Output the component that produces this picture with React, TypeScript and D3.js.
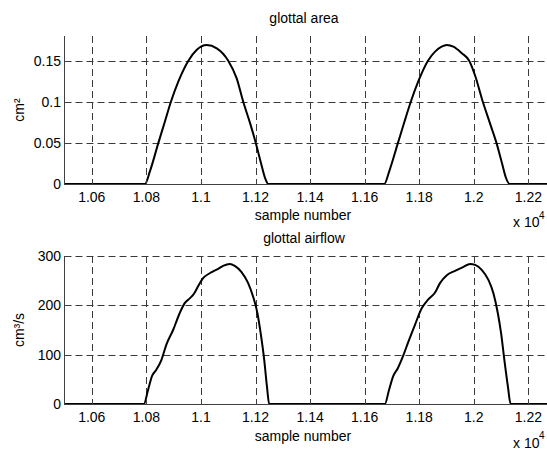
import React from "react";
import * as d3 from "d3";

const xTicks = [10600, 10800, 11000, 11200, 11400, 11600, 11800, 12000, 12200];
const xTickLabels = ["1.06", "1.08", "1.1", "1.12", "1.14", "1.16", "1.18", "1.2", "1.22"];
const xDomain = [10500, 12270];

const areaTicks = [0, 0.05, 0.1, 0.15];
const areaTickLabels = ["0", "0.05", "0.1", "0.15"];
const areaDomain = [0, 0.18];

const flowTicks = [0, 100, 200, 300];
const flowTickLabels = ["0", "100", "200", "300"];
const flowDomain = [0, 300];

const areaSamples = [
  10500, 10795, 10813, 10844, 10868, 10890, 10917, 10954, 10984, 11021, 11058, 11100, 11131,
  11155, 11180, 11201, 11220, 11235, 11247,
  11672, 11690, 11722, 11746, 11769, 11796, 11832, 11858, 11882, 11901, 11925, 11956,
  11983, 12004, 12033, 12059, 12083, 12103, 12118, 12131, 12270,
];
const areaValues = [
  0, 0, 0.0154, 0.05, 0.076, 0.1, 0.1245, 0.15, 0.163, 0.169, 0.165, 0.15, 0.1285,
  0.1, 0.074, 0.05, 0.0255, 0.0073, 0,
  0, 0.0154, 0.05, 0.076, 0.1, 0.1245, 0.15, 0.161, 0.167, 0.169, 0.167, 0.159,
  0.15, 0.1326, 0.1, 0.074, 0.05, 0.0255, 0.0073, 0, 0,
];

const flowSamples = [
  10500, 10791, 10806, 10821, 10836, 10855, 10873, 10898, 10922, 10940, 10959, 10975, 10989, 11008,
  11032, 11063, 11081, 11106, 11124, 11148, 11173, 11191, 11207, 11219, 11232, 11242, 11250,
  11674, 11689, 11705, 11721, 11742, 11760, 11784, 11809, 11833, 11858, 11876, 11901, 11931, 11962,
  11986, 12005, 12029, 12054, 12072, 12088, 12100, 12112, 12125, 12135, 12270,
];
const flowValues = [
  0, 0, 28, 57, 69, 89, 120, 150, 184, 204, 214, 224, 238, 255,
  265, 274, 280, 284, 280, 268, 245, 218, 184, 143, 89, 35, 0,
  0, 28, 57, 72, 99, 126, 160, 194, 212, 226, 245, 261, 270, 278,
  284, 282, 272, 251, 224, 184, 143, 89, 35, 0, 0,
];

const FONT = "'Liberation Sans', Arial, Helvetica, sans-serif";
const GRID = "#3a3a3a";
const AXIS = "#404040";

type PanelProps = {
  top: number;
  bottom: number;
  yDomain: number[];
  yTicks: number[];
  yTickLabels: string[];
  samples: number[];
  values: number[];
  title: string;
  titleY: number;
  yLabel: string;
  xLabelY: number;
  tickLabelY: number;
  expY: number;
  expSupY: number;
};

function Panel(p: PanelProps) {
  const left = 64.5;
  const right = 547.5;
  const x = d3.scaleLinear().domain(xDomain).range([left, right]);
  const y = d3.scaleLinear().domain(p.yDomain).range([p.bottom, p.top]);
  const pts: [number, number][] = p.samples.map((s, i) => [s, p.values[i]]);
  const line = d3
    .line<[number, number]>()
    .x((d) => x(d[0]))
    .y((d) => y(d[1]))
    .curve(d3.curveMonotoneX);
  return (
    <g>
      {xTicks.map((t) => (
        <line
          key={"vx" + t}
          x1={Math.round(x(t)) + 0.5}
          x2={Math.round(x(t)) + 0.5}
          y1={p.top}
          y2={p.bottom}
          stroke={GRID}
          strokeWidth={1}
          strokeDasharray="7,4"
        />
      ))}
      {p.yTicks.map((t) => (
        <line
          key={"hy" + t}
          x1={left}
          x2={right}
          y1={Math.round(y(t)) + 0.5}
          y2={Math.round(y(t)) + 0.5}
          stroke={GRID}
          strokeWidth={1}
          strokeDasharray="7,4"
        />
      ))}
      <path d={line(pts) || ""} fill="none" stroke="#000" strokeWidth={2} strokeLinejoin="round" />
      <line x1={left} x2={right} y1={p.bottom + 0.5} y2={p.bottom + 0.5} stroke={AXIS} strokeWidth={1} />
      <line x1={left} x2={left} y1={p.top} y2={p.bottom + 1} stroke={AXIS} strokeWidth={1} />
      {xTicks.map((t, i) => (
        <g key={"tx" + t}>
          <line
            x1={Math.round(x(t)) + 0.5}
            x2={Math.round(x(t)) + 0.5}
            y1={p.bottom}
            y2={p.bottom - 5}
            stroke={AXIS}
          />
          <text x={x(t)} y={p.tickLabelY} textAnchor="middle" fontSize={14} fontFamily={FONT} fill="#000">
            {xTickLabels[i]}
          </text>
        </g>
      ))}
      {p.yTicks.map((t, i) => (
        <g key={"ty" + t}>
          <line x1={left} x2={left + 5} y1={Math.round(y(t)) + 0.5} y2={Math.round(y(t)) + 0.5} stroke={AXIS} />
          <text x={61} y={y(t)} dy="0.36em" textAnchor="end" fontSize={14} fontFamily={FONT} fill="#000">
            {p.yTickLabels[i]}
          </text>
        </g>
      ))}
      <text x={304} y={p.titleY} textAnchor="middle" fontSize={14} fontFamily={FONT} fill="#000">
        {p.title}
      </text>
      <text x={303} y={p.xLabelY} textAnchor="middle" fontSize={14} fontFamily={FONT} fill="#000">
        sample number
      </text>
      <text
        transform={`translate(24,${(p.top + p.bottom) / 2}) rotate(-90)`}
        textAnchor="middle"
        fontSize={14}
        fontFamily={FONT}
        fill="#000"
      >
        {p.yLabel}
      </text>
      <text x={513} y={p.expY} fontSize={14} fontFamily={FONT} fill="#000">
        x 10
      </text>
      <text x={539} y={p.expSupY} fontSize={10} fontFamily={FONT} fill="#000">
        4
      </text>
    </g>
  );
}

export default function App() {
  return (
    <svg
      width={547}
      height={450}
      style={{ position: "absolute", left: 0, top: 0, background: "#fff" }}
    >
      <rect x={0} y={0} width={547} height={450} fill="#fff" />
      <Panel
        top={36}
        bottom={184}
        yDomain={areaDomain}
        yTicks={areaTicks}
        yTickLabels={areaTickLabels}
        samples={areaSamples}
        values={areaValues}
        title="glottal area"
        titleY={22.5}
        yLabel="cm²"
        xLabelY={220}
        tickLabelY={202}
        expY={227}
        expSupY={219}
      />
      <Panel
        top={256}
        bottom={404}
        yDomain={flowDomain}
        yTicks={flowTicks}
        yTickLabels={flowTickLabels}
        samples={flowSamples}
        values={flowValues}
        title="glottal airflow"
        titleY={243}
        yLabel="cm³/s"
        xLabelY={440.5}
        tickLabelY={422}
        expY={448}
        expSupY={439}
      />
    </svg>
  );
}
